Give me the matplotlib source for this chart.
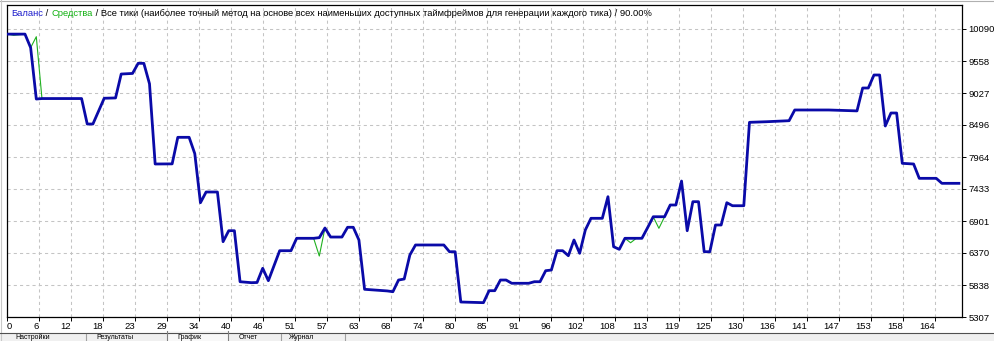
import matplotlib
matplotlib.use("Agg")
import matplotlib.pyplot as plt
from matplotlib.patches import Rectangle
from matplotlib.lines import Line2D

W, H, DPI = 995, 341, 100
plt.rcParams['font.family'] = ['Liberation Sans', 'DejaVu Sans']

# ---------------- data ----------------
trade_idx = [0, 1, 3, 4, 5, 6, 13, 14, 15, 17, 19, 20, 22, 23, 24, 25, 26, 29, 30, 32,
             33, 34, 35, 37, 38, 39, 40, 41, 43, 44, 45, 46, 48, 50, 51, 54, 55, 56, 57, 59, 60,
             61, 62, 63, 67, 68, 69, 70, 71, 72, 77, 78, 79, 80, 84, 85, 86, 87, 88, 89, 92,
             93, 94, 95, 96, 97, 98, 99, 100, 101, 102, 103, 105, 106, 107, 108, 109, 110, 111, 112, 113, 114,
             115, 116, 117, 118, 119, 120, 121, 122, 123, 124, 125, 126, 127, 128, 130, 131, 134, 138, 139, 145,
             150, 151, 152, 153, 154, 155, 156, 157, 158, 160, 161, 164, 165, 168]
balance = [10005, 10005, 10005, 9780, 8927, 8935, 8935, 8512, 8512, 8940, 8945, 9342, 9352, 9520, 9520, 9180, 7848, 7850, 8291, 8291,
           8020, 7205, 7383, 7383, 6558, 6740, 6740, 5893, 5877, 5880, 6116, 5910, 6408, 6408, 6614, 6614, 6625, 6785, 6635, 6635, 6797,
           6797, 6586, 5767, 5740, 5727, 5921, 5938, 6337, 6503, 6503, 6391, 6391, 5556, 5545, 5744, 5744, 5921, 5921, 5867, 5867,
           5893, 5893, 6076, 6087, 6408, 6408, 6325, 6586, 6365, 6752, 6946, 6946, 7305, 6474, 6431, 6614, 6614, 6614, 6614, 6790, 6972,
           6972, 6972, 7167, 7167, 7565, 6740, 7222, 7222, 6391, 6391, 6835, 6835, 7205, 7155, 7155, 8540, 8550, 8567, 8745, 8745,
           8730, 9110, 9110, 9326, 9326, 8479, 8695, 8695, 7859, 7848, 7610, 7610, 7527, 7527]
# equity differs from balance only at a few trades
equity_dips = {1: 9985, 5: 9962, 55: 6320, 110: 6540, 115: 6780}
equity = [equity_dips.get(i, b) for i, b in zip(trade_idx, balance)]

y_tick_values = [5307, 5838, 6370, 6901, 7433, 7964, 8496, 9027, 9558, 10090]
x_tick_labels = ['0', '6', '12', '18', '23', '29', '34', '40', '46', '51', '57', '63', '68', '74', '80',
                 '85', '91', '96', '102', '108', '113', '119', '125', '130', '136', '141', '147', '153', '158', '164']

title_balance = "Баланс"
title_equity = "Средства"
title_rest = " / Все тики (наиболее точный метод на основе всех наименьших доступных таймфреймов для генерации каждого тика) / 90.00%"
tab_labels = ["Настройки", "Результаты", "График", "Отчет", "Журнал"]

BLUE = '#0a0aa8'
GREEN = '#1fb01f'
BLUE_T = '#1c1ccc'
GREEN_T = '#10b010'
GRID = '#c4c4c4'

# ---------------- figure ----------------
fig = plt.figure(figsize=(W / DPI, H / DPI), dpi=DPI)
fig.patch.set_facecolor('white')

def fx(x):
    return x / W

def fy(y):
    return 1 - y / H

L, R, T, B = 7, 962, 5, 317
ax = fig.add_axes([fx(L), fy(B), (R - L) / W, (B - T) / H])
PPT = 5.66
X0 = -1 / PPT
ax.set_xlim(X0, X0 + (R - L) / PPT)
VPP = (y_tick_values[-1] - y_tick_values[0]) / 288.0
ax.set_ylim(y_tick_values[0], y_tick_values[0] + (B - T) * VPP)

ax.plot(trade_idx, equity, color=GREEN, lw=0.8, zorder=3)
ax.plot(trade_idx, balance, color=BLUE, lw=2.0, zorder=4, solid_joinstyle='round')

for s in ax.spines.values():
    s.set_color('black')
    s.set_linewidth(0.9)

ax.yaxis.tick_right()
ax.set_yticks(y_tick_values)
ax.set_yticklabels([str(v) for v in y_tick_values])
ax.tick_params(axis='y', length=3, width=0.7, pad=1.5, labelsize=6.8, direction='out')

xticks = [X0 + k * 32 / PPT for k in range(len(x_tick_labels))]
ax.set_xticks(xticks)
ax.set_xticklabels(x_tick_labels)
ax.tick_params(axis='x', length=3, width=0.7, pad=0.8, labelsize=6.8, direction='out', colors='black')
xl = ax.get_xticklabels()
xl[0].set_ha('left')
for lbl in xl[1:]:
    lbl.set_ha('right')

ax.grid(True, color=GRID, linestyle=(0, (3, 3)), lw=0.75)
ax.set_axisbelow(True)

# ---------------- title (multi-colour) ----------------
fig.canvas.draw()
renderer = fig.canvas.get_renderer()
parts = [(title_balance, BLUE_T), (" / ", 'black'), (title_equity, GREEN_T), (title_rest, 'black')]
fs = 7.0
tmp = fig.text(0, 0, "".join(p for p, _ in parts), fontsize=fs)
wfull = tmp.get_window_extent(renderer).width
tmp.remove()
fs = fs * 643.0 / wfull
x = 11.5
for txt, col in parts:
    t = fig.text(fx(x), fy(16.5), txt, fontsize=fs, color=col, va='baseline', ha='left')
    x += t.get_window_extent(renderer).width

# ---------------- window chrome ----------------
fig.add_artist(Line2D([0, 1], [fy(0.5), fy(0.5)], color='#b0b0b0', lw=0.8))
fig.add_artist(Line2D([fx(1.5), fx(1.5)], [0, 1], color='#c8c8c8', lw=0.8))
fig.add_artist(Rectangle((0, 0), 1, fy(333), facecolor='#f0f0f0', edgecolor='none'))
fig.add_artist(Line2D([0, 1], [fy(332.5), fy(332.5)], color='#505050', lw=0.8))
# selected tab
fig.add_artist(Rectangle((fx(167), 0), (228 - 167) / W, fy(331), facecolor='#f8f8f8', edgecolor='none'))
fig.add_artist(Line2D([fx(167), fx(167)], [0, fy(331)], color='#808080', lw=0.8))
fig.add_artist(Line2D([fx(228), fx(228)], [0, fy(331)], color='#808080', lw=0.8))
for sx in [86, 281, 345]:
    fig.add_artist(Line2D([fx(sx), fx(sx)], [0, fy(334)], color='#a0a0a0', lw=0.8))
for lab, tx in zip(tab_labels, [15, 96, 177, 239, 289]):
    fig.text(fx(tx), fy(333.8), lab, fontsize=5.0, va='top', ha='left', color='black')

fig.savefig('out.png', dpi=DPI, facecolor='white')
